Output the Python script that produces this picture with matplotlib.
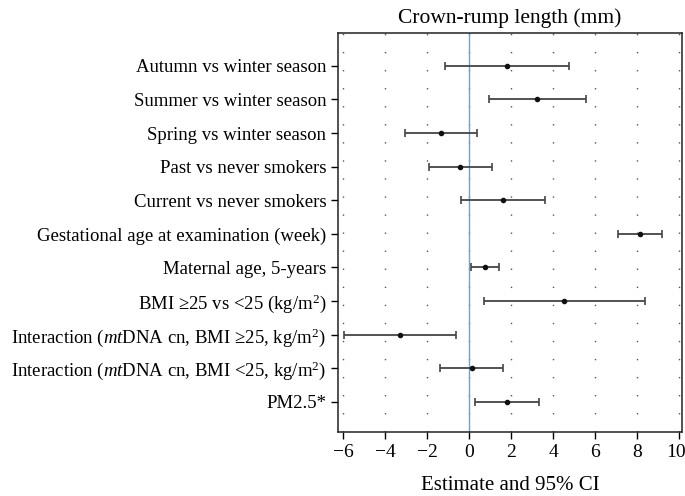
import matplotlib
matplotlib.use("Agg")
import matplotlib.pyplot as plt
import matplotlib.transforms as mtransforms
import numpy as np

# ---- data ----
labels = [
    "Autumn vs winter season",
    "Summer vs winter season",
    "Spring vs winter season",
    "Past vs never smokers",
    "Current vs never smokers",
    "Gestational age at examination (week)",
    "Maternal age, 5-years",
    "BMI \u226525 vs <25 (kg/m$^2$)",
    "Interaction ($\\mathit{mt}$DNA cn, BMI \u226525, kg/m$^2$)",
    "Interaction ($\\mathit{mt}$DNA cn, BMI <25, kg/m$^2$)",
    "PM2.5*",
]
estimate = [1.81, 3.23, -1.34, -0.44, 1.61, 8.16, 0.77, 4.53, -3.30, 0.13, 1.81]
ci_low = [-1.13, 0.96, -3.05, -1.92, -0.38, 7.09, 0.10, 0.71, -5.97, -1.38, 0.29]
ci_high = [4.74, 5.57, 0.38, 1.11, 3.63, 9.20, 1.42, 8.36, -0.60, 1.61, 3.32]
xticks = [-6, -4, -2, 0, 2, 4, 6, 8, 10]

plt.rcParams['font.family'] = ['Liberation Serif', 'DejaVu Serif']
plt.rcParams['mathtext.fontset'] = 'custom'
plt.rcParams['mathtext.rm'] = 'Liberation Serif'
plt.rcParams['mathtext.it'] = 'Liberation Serif:italic'

fig = plt.figure(figsize=(6.85, 4.96), dpi=100)
ax = fig.add_axes([338 / 685, 1 - 432 / 496, (682 - 338) / 685, (432 - 33) / 496])

y = np.arange(len(labels))
est = np.array(estimate)
err = [est - np.array(ci_low), np.array(ci_high) - est]

# dotted vertical grid at the x ticks
for xv in xticks:
    ax.axvline(xv, color='#555555', lw=1.0, ls=(0, (1, 12)), zorder=0)
ax.axvline(0, color='#7d9bd0', lw=1.0, zorder=1)

ax.errorbar(est, y, xerr=err, fmt='o', color='#333333', ecolor='#444444',
            elinewidth=1.3, capsize=3, capthick=1.2, markersize=3,
            markerfacecolor='#111111', markeredgecolor='#111111', zorder=3)

ax.set_xlim(-6.24, 10.14)
ax.set_ylim(10.9, -0.98)
ax.set_xticks(xticks)
ax.set_yticks(y)
ax.set_yticklabels(labels, fontsize=13.5)
ax.tick_params(axis='x', labelsize=14, direction='out', length=5, width=1)
ax.tick_params(axis='y', direction='out', length=5, width=1)
for s in ax.spines.values():
    s.set_linewidth(1.1)
    s.set_color('#222222')

# nudge the last x tick label ("10") so it stays inside the figure
last = ax.get_xticklabels()[-1]
last.set_transform(last.get_transform() +
                   mtransforms.ScaledTranslation(-3 / 100, 0, fig.dpi_scale_trans))

ax.set_title("Crown-rump length (mm)", fontsize=15.5, pad=7)
ax.set_xlabel("Estimate and 95% CI", fontsize=15, labelpad=11)

fig.savefig("out.png", dpi=100)
